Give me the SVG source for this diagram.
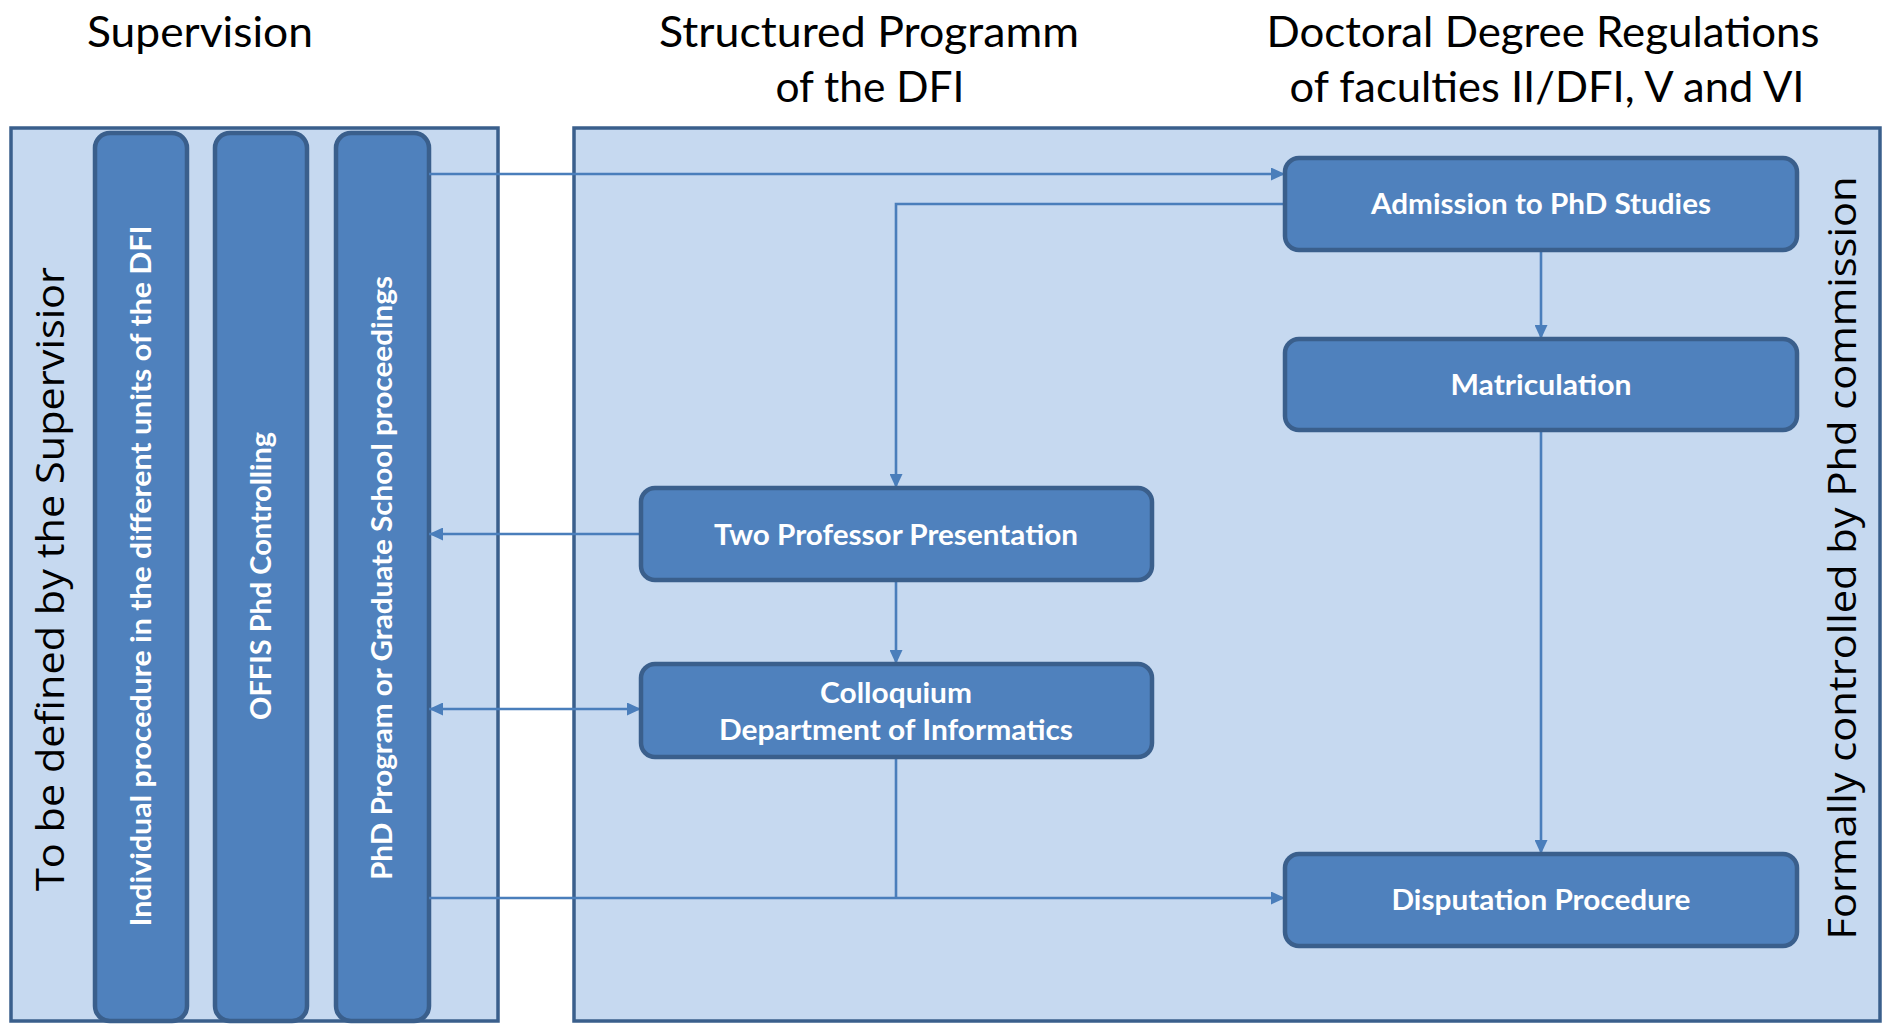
<svg xmlns="http://www.w3.org/2000/svg" width="1883" height="1024" viewBox="0 0 1883 1024">
<style>
.panel{fill:#C6D9F0;stroke:#3A5F8C;stroke-width:3.5}
.col{fill:#4F81BD;stroke:#3A5F8C;stroke-width:4.5}
.box{fill:#4F81BD;stroke:#3A5F8C;stroke-width:4.5}
.hdr{font-family:Lato,"Liberation Sans",sans-serif;font-size:43px;fill:#000;text-anchor:middle}
.big{font-family:"Open Sans","Liberation Sans",sans-serif;font-size:39px;fill:#000;text-anchor:middle}
.lbl{font-family:Lato,"Liberation Sans",sans-serif;font-weight:bold;font-size:28px;fill:#fff;text-anchor:middle}
.conn{fill:none;stroke:#4A7EBB;stroke-width:2.6}
</style>
<defs>
<marker id="ah" viewBox="0 0 14 13" refX="14" refY="6.5" markerWidth="14" markerHeight="13" markerUnits="userSpaceOnUse" orient="auto-start-reverse">
<path d="M0,0 L14,6.5 L0,13 Z" fill="#4A7EBB"/>
</marker>
</defs>
<rect width="1883" height="1024" fill="#fff"/>
<g id="headers">
<text class="hdr" x="200" y="47" textLength="226" lengthAdjust="spacingAndGlyphs">Supervision</text>
<text class="hdr" x="869" y="47" textLength="420" lengthAdjust="spacingAndGlyphs">Structured Programm</text>
<text class="hdr" x="870" y="102" textLength="189" lengthAdjust="spacingAndGlyphs">of the DFI</text>
<text class="hdr" x="1543" y="47" textLength="553" lengthAdjust="spacingAndGlyphs">Doctoral Degree Regulations</text>
<text class="hdr" x="1547" y="102" textLength="515" lengthAdjust="spacingAndGlyphs">of faculties II/DFI, V and VI</text>
</g>
<g id="supervision-panel">
<rect class="panel" x="11" y="128" width="487" height="893"/>
<text class="big" transform="translate(64,579) rotate(-90)" textLength="624" lengthAdjust="spacingAndGlyphs">To be defined by the Supervisior</text>
</g>
<g id="regulations-panel">
<rect class="panel" x="574" y="128" width="1306" height="893"/>
<text class="big" transform="translate(1856,558) rotate(-90)" textLength="763" lengthAdjust="spacingAndGlyphs">Formally controlled by Phd commission</text>
</g>
<g id="col-individual">
<rect class="col" x="95" y="133" width="92" height="888" rx="15"/>
<text class="lbl" transform="translate(151,576) rotate(-90)" textLength="701" lengthAdjust="spacingAndGlyphs">Individual procedure in the  different units of the DFI</text>
</g>
<g id="col-offis">
<rect class="col" x="215" y="133" width="92" height="888" rx="15"/>
<text class="lbl" transform="translate(271,576) rotate(-90)" textLength="288" lengthAdjust="spacingAndGlyphs">OFFIS Phd Controlling</text>
</g>
<g id="col-phd">
<rect class="col" x="336" y="133" width="93" height="888" rx="15"/>
<text class="lbl" transform="translate(392,578) rotate(-90)" textLength="604" lengthAdjust="spacingAndGlyphs">PhD Program or Graduate School proceedings</text>
</g>
<g id="connectors">
<path class="conn" d="M429,174 H1285" marker-end="url(#ah)"/>
<path class="conn" d="M1285,204 H896 V488" marker-end="url(#ah)"/>
<path class="conn" d="M1541,250 V339" marker-end="url(#ah)"/>
<path class="conn" d="M1541,430 V854" marker-end="url(#ah)"/>
<path class="conn" d="M641,534 H429" marker-end="url(#ah)"/>
<path class="conn" d="M429,709 H641" marker-start="url(#ah)" marker-end="url(#ah)"/>
<path class="conn" d="M896,580 V664" marker-end="url(#ah)"/>
<path class="conn" d="M896,757 V898"/>
<path class="conn" d="M429,898 H1285" marker-end="url(#ah)"/>
</g>
<g id="admission">
<rect class="box" x="1285" y="158" width="512" height="92" rx="14"/>
<text class="lbl" x="1541" y="214" textLength="340" lengthAdjust="spacingAndGlyphs">Admission to PhD Studies</text>
</g>
<g id="matriculation">
<rect class="box" x="1285" y="339" width="512" height="91" rx="14"/>
<text class="lbl" x="1541" y="395" textLength="181" lengthAdjust="spacingAndGlyphs">Matriculation</text>
</g>
<g id="two-professor">
<rect class="box" x="641" y="488" width="511" height="92" rx="14"/>
<text class="lbl" x="896" y="545" textLength="364" lengthAdjust="spacingAndGlyphs">Two Professor Presentation</text>
</g>
<g id="colloquium">
<rect class="box" x="641" y="664" width="511" height="93" rx="14"/>
<text class="lbl" x="896" y="703" textLength="152" lengthAdjust="spacingAndGlyphs">Colloquium</text>
<text class="lbl" x="896" y="740" textLength="354" lengthAdjust="spacingAndGlyphs">Department of Informatics</text>
</g>
<g id="disputation">
<rect class="box" x="1285" y="854" width="512" height="92" rx="14"/>
<text class="lbl" x="1541" y="910" textLength="299" lengthAdjust="spacingAndGlyphs">Disputation Procedure</text>
</g>
</svg>
